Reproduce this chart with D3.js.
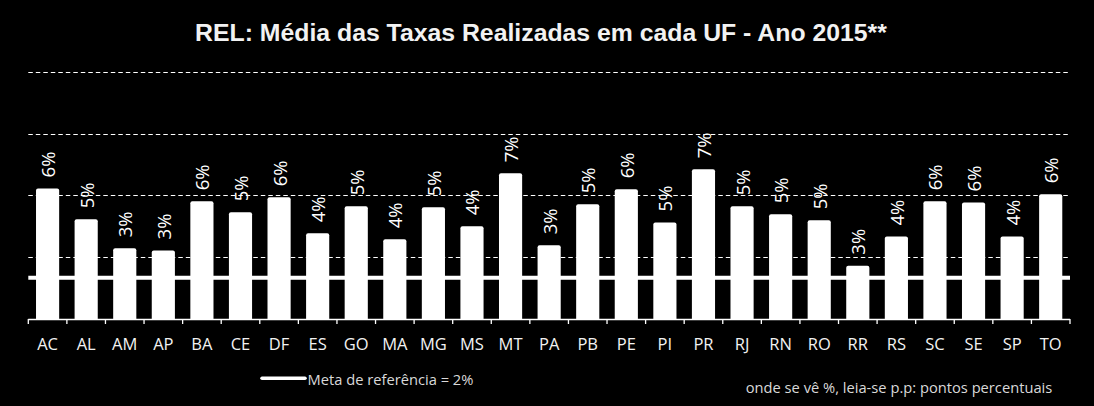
<!DOCTYPE html>
<html>
<head>
<meta charset="utf-8">
<script src="https://cdn.jsdelivr.net/npm/d3@7"></script>
<style>
  html, body { margin: 0; padding: 0; background: #000; }
  svg { display: block; }
</style>
</head>
<body>
<svg id="chart" width="1094" height="406"></svg>
<script>
const categories = ["AC","AL","AM","AP","BA","CE","DF","ES","GO","MA","MG","MS","MT","PA","PB","PE","PI","PR","RJ","RN","RO","RR","RS","SC","SE","SP","TO"];
const values = [6.34,4.84,3.43,3.33,5.71,5.18,5.91,4.16,5.47,3.87,5.42,4.50,7.07,3.58,5.57,6.30,4.69,7.27,5.47,5.08,4.79,2.59,4.00,5.71,5.66,4.00,6.05];
const valueLabels = ["6%","5%","3%","3%","6%","5%","6%","4%","5%","4%","5%","4%","7%","3%","5%","6%","5%","7%","5%","5%","5%","3%","4%","6%","6%","4%","6%"];
const gridTicks = [3, 6, 9, 12];
const targetValue = 2;
const title = "REL: Média das Taxas Realizadas em cada UF - Ano 2015**";
const legendLabel = "Meta de referência = 2%";
const footnote = "onde se vê %, leia-se p.p: pontos percentuais";

const svg = d3.select("#chart");
svg.append("rect").attr("width", 1094).attr("height", 406).attr("fill", "#000");

const x = d3.scaleBand().domain(categories).range([28.3, 1070]).paddingInner(0.4).paddingOuter(0.2);
const y = d3.scaleLinear().domain([0, 15]).range([319, 10]);

// gridlines
svg.append("g").selectAll("line").data(gridTicks).join("line")
  .attr("x1", 28.3).attr("x2", 1069)
  .attr("y1", d => Math.round(y(d)) + 0.5).attr("y2", d => Math.round(y(d)) + 0.5)
  .attr("stroke", "#fff").attr("stroke-width", 1).attr("stroke-dasharray", "4.5,3");

// target line
svg.append("line")
  .attr("x1", 28.3).attr("x2", 1070)
  .attr("y1", y(targetValue)).attr("y2", y(targetValue))
  .attr("stroke", "#fff").attr("stroke-width", 4);

// bars
svg.append("g").selectAll("path").data(values).join("path")
  .attr("fill", "#fff")
  .attr("d", (d, i) => {
    const x0 = x(categories[i]), w = x.bandwidth(), y0 = y(d), y1 = y(0), r = 2;
    return `M${x0},${y1}V${y0 + r}Q${x0},${y0} ${x0 + r},${y0}H${x0 + w - r}Q${x0 + w},${y0} ${x0 + w},${y0 + r}V${y1}Z`;
  });

// x axis
const step = x.step();
const axisG = svg.append("g");
axisG.append("line").attr("x1", 28.3).attr("x2", 1070).attr("y1", 319.5).attr("y2", 319.5)
  .attr("stroke", "#fff").attr("stroke-width", 1.3);
const boundaries = d3.range(categories.length + 1).map(i => 28.3 + i * step);
axisG.selectAll("line.tick").data(boundaries).join("line").attr("class", "tick")
  .attr("x1", d => d).attr("x2", d => d).attr("y1", 319).attr("y2", 324)
  .attr("stroke", "#fff").attr("stroke-width", 1.3);
axisG.selectAll("text").data(categories).join("text")
  .attr("x", d => x(d) + x.bandwidth() / 2).attr("y", 343)
  .attr("text-anchor", "middle").attr("dominant-baseline", "central")
  .attr("font-family", "'Open Sans', sans-serif").attr("font-size", 16.5)
  .attr("fill", "#f2f2f2").text(d => d);

// value labels
svg.append("g").selectAll("text").data(values).join("text")
  .attr("transform", (d, i) => `translate(${x(categories[i]) + x.bandwidth() / 2},${y(d) - 11}) rotate(-90)`)
  .attr("text-anchor", "start").attr("dominant-baseline", "central")
  .attr("font-family", "'Open Sans', sans-serif").attr("font-size", 18.5)
  .attr("fill", "#fff").text((d, i) => valueLabels[i]);

// title
svg.append("text").attr("x", 541).attr("y", 41).attr("text-anchor", "middle")
  .attr("font-family", "'Liberation Sans', Arial, sans-serif").attr("font-weight", "bold")
  .attr("font-size", 24.8).attr("fill", "#f2f2f2").text(title);

// legend
svg.append("line").attr("x1", 262).attr("x2", 305).attr("y1", 378.3).attr("y2", 378.3)
  .attr("stroke", "#fff").attr("stroke-width", 3.5).attr("stroke-linecap", "round");
svg.append("text").attr("x", 307.5).attr("y", 378.5).attr("dominant-baseline", "central")
  .attr("font-family", "'Open Sans', sans-serif").attr("font-size", 14.7)
  .attr("fill", "#d9d9d9").text(legendLabel);

// footnote
svg.append("text").attr("x", 745.7).attr("y", 386.5).attr("dominant-baseline", "central")
  .attr("font-family", "'Open Sans', sans-serif").attr("font-size", 14.7)
  .attr("fill", "#d9d9d9").text(footnote);
</script>
</body>
</html>
